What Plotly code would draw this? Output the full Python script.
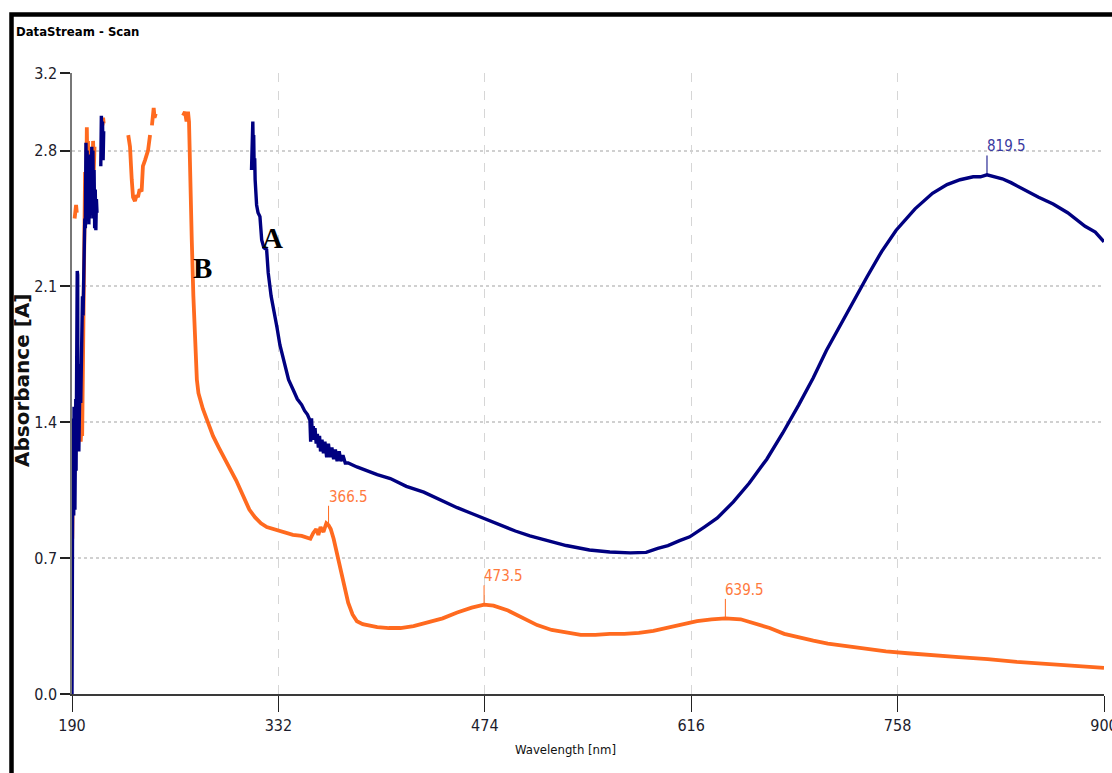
import plotly.graph_objects as go

# ---- Spectrum A (navy) -------------------------------------------------
# deep-UV region, noisy before detector saturation
a_uv_nm = [190.0, 190.2, 190.4, 190.6, 190.8, 191.0, 191.2, 191.4, 191.6, 191.8,
           192.0, 192.2, 192.4, 192.6, 192.8, 193.0, 193.2, 193.6, 193.9, 194.1,
           194.4, 194.7, 195.0, 195.3, 195.6, 196.0, 196.4, 196.8, 197.2, 197.6,
           198.0, 198.4, 198.8, 199.2, 199.6, 200.0, 200.4, 200.8, 201.2, 201.6,
           202.0, 202.4, 202.8, 203.2, 203.6, 204.0, 204.4, 204.8, 205.2, 205.6,
           206.0, 206.4, 206.8, 207.2]
a_uv_abs = [0.00, 0.45, 0.95, 1.42, 0.88, 1.30, 0.92, 1.48, 1.05, 1.40,
            0.95, 1.45, 1.10, 1.52, 1.15, 1.50, 1.20, 2.18, 2.16, 1.30,
            1.55, 1.25, 1.60, 1.35, 1.70, 1.50, 1.85, 1.70, 2.05, 1.95,
            2.25, 2.15, 2.45, 2.40, 2.84, 2.55, 2.80, 2.48, 2.75, 2.42,
            2.70, 2.45, 2.78, 2.50, 2.82, 2.55, 2.80, 2.45, 2.70, 2.40,
            2.60, 2.39, 2.55, 2.48]
a_uv2_nm = [209.8, 210.2, 210.6, 211.0, 211.4, 211.8]
a_uv2_abs = [2.72, 2.98, 2.80, 2.95, 2.75, 2.90]

a_main_nm = [313.5, 313.8, 314.1, 314.4, 314.7, 315.0, 315.3, 315.7, 316.0, 316.5,
             317.0, 318.0, 319.3, 320.5, 322.0, 323.9, 325.0, 327.0, 328.5, 331.0,
             333.0, 336.0, 339.0, 342.0, 345.0, 348.0, 350.0, 352.0, 353.7, 354.2,
             354.8, 355.4, 356.0, 356.6, 357.2, 358.0, 358.8, 359.5, 360.3, 361.0,
             362.0, 363.0, 364.0, 365.2, 366.4, 367.6, 368.8, 370.0, 371.2, 372.4,
             373.8, 375.0, 376.4, 378.0, 380.0, 386.0, 395.0, 400.0, 409.0, 420.0,
             432.0, 443.0, 455.0, 465.0, 475.0, 485.0, 495.0, 505.0, 512.0, 520.0,
             530.0, 546.0, 560.0, 574.0, 585.0, 593.0, 600.0, 608.0, 615.0, 625.0,
             634.0, 645.0, 656.0, 668.0, 679.0, 690.0, 700.0, 709.0, 720.0, 728.0,
             737.0, 747.0, 757.0, 770.0, 782.0, 792.0, 801.0, 810.0, 815.0, 819.5,
             824.0, 830.0, 836.0, 842.0, 848.0, 855.0, 865.0, 875.0, 887.0, 894.0,
             900.0]
a_main_abs = [2.70, 2.85, 2.78, 2.95, 2.80, 2.88, 2.72, 2.76, 2.65, 2.58,
              2.52, 2.48, 2.46, 2.34, 2.30, 2.29, 2.17, 2.05, 1.98, 1.89,
              1.80, 1.70, 1.62, 1.57, 1.52, 1.49, 1.46, 1.44, 1.41, 1.30,
              1.42, 1.33, 1.38, 1.31, 1.37, 1.29, 1.34, 1.27, 1.33, 1.25,
              1.31, 1.24, 1.30, 1.22, 1.29, 1.22, 1.27, 1.21, 1.26, 1.20,
              1.25, 1.20, 1.23, 1.19, 1.19, 1.17, 1.145, 1.13, 1.11, 1.07,
              1.04, 1.00, 0.96, 0.93, 0.90, 0.87, 0.84, 0.815, 0.80, 0.785,
              0.765, 0.742, 0.732, 0.727, 0.73, 0.75, 0.765, 0.79, 0.81, 0.86,
              0.907, 0.99, 1.087, 1.21, 1.345, 1.49, 1.63, 1.77, 1.92, 2.03,
              2.15, 2.28, 2.39, 2.50, 2.58, 2.625, 2.65, 2.665, 2.665, 2.675,
              2.665, 2.655, 2.635, 2.61, 2.59, 2.56, 2.525, 2.48, 2.41, 2.38,
              2.33]

# ---- Spectrum B (orange) -----------------------------------------------
b_uv_nm = [190.2, 190.5, 190.8, 191.1, 191.4]
b_uv_abs = [0.80, 1.25, 0.95, 1.40, 1.10]
b_uv2_nm = [191.8, 192.2, 192.8, 193.3]
b_uv2_abs = [2.45, 2.50, 2.52, 2.48]
b_uv3_nm = [196.0, 196.5, 197.0, 197.5, 198.0, 198.5, 199.0, 199.4, 199.8, 200.2,
            200.6, 201.0, 201.5, 202.0, 202.5, 203.5, 204.0, 204.5, 205.0, 205.5]
b_uv3_abs = [1.30, 1.38, 1.33, 1.60, 1.95, 2.35, 2.69, 2.55, 2.60, 2.92,
             2.70, 2.85, 2.58, 2.80, 2.62, 2.78, 2.66, 2.85, 2.70, 2.82]
b_uv4_nm = [211.0, 211.4, 211.8]
b_uv4_abs = [2.93, 2.97, 2.94]
b_dip_nm = [228.7, 229.9, 231.1, 232.0, 233.3, 234.5, 235.4, 236.5, 237.9, 238.8,
            240.2, 241.3, 242.3, 243.7]
b_dip_abs = [2.88, 2.82, 2.65, 2.56, 2.54, 2.57, 2.56, 2.60, 2.59, 2.72,
             2.75, 2.77, 2.80, 2.88]
b_dip2_nm = [245.0, 245.6, 246.2, 246.8, 247.6]
b_dip2_abs = [2.93, 3.00, 3.02, 2.97, 2.99]

b_main_nm = [266.4, 267.7, 268.8, 269.8, 270.5, 271.2, 272.4, 273.5, 274.6, 275.3,
             275.9, 277.0, 280.0, 283.0, 287.0, 291.0, 294.0, 298.0, 303.0, 308.0,
             312.0, 316.0, 320.0, 324.0, 330.0, 336.0, 342.0, 348.0, 354.0, 356.0,
             358.0, 359.5, 361.0, 363.0, 365.0, 366.5, 368.0, 370.0, 372.0, 374.0,
             377.0, 380.0, 383.0, 386.0, 390.0, 395.0, 400.0, 408.0, 416.0, 425.0,
             435.0, 445.0, 455.0, 465.0, 473.5, 480.0, 490.0, 500.0, 510.0, 520.0,
             530.0, 540.0, 550.0, 560.0, 570.0, 580.0, 590.0, 600.0, 610.0, 620.0,
             630.0, 639.5, 650.0, 660.0, 670.0, 680.0, 690.0, 700.0, 710.0, 720.0,
             735.0, 750.0, 765.0, 780.0, 800.0, 820.0, 840.0, 860.0, 880.0, 900.0]
b_main_abs = [2.98, 3.00, 2.95, 3.00, 2.95, 2.68, 2.34, 2.05, 1.85, 1.70,
              1.62, 1.55, 1.47, 1.41, 1.33, 1.27, 1.23, 1.17, 1.10, 1.02,
              0.95, 0.91, 0.88, 0.86, 0.845, 0.83, 0.82, 0.815, 0.80, 0.83,
              0.85, 0.82, 0.86, 0.835, 0.88, 0.87, 0.85, 0.80, 0.73, 0.67,
              0.56, 0.47, 0.41, 0.375, 0.36, 0.35, 0.345, 0.34, 0.34, 0.35,
              0.37, 0.39, 0.42, 0.445, 0.46, 0.455, 0.43, 0.39, 0.355, 0.33,
              0.315, 0.305, 0.305, 0.31, 0.31, 0.315, 0.325, 0.34, 0.36, 0.375,
              0.385, 0.39, 0.385, 0.365, 0.34, 0.31, 0.29, 0.275, 0.26, 0.25,
              0.235, 0.22, 0.21, 0.20, 0.19, 0.18, 0.165, 0.155, 0.145, 0.135]

# peak markers
peaks_a = [819.5]
peaks_b = [366.5, 473.5, 639.5]

x_ticks = [190, 332, 474, 616, 758, 900]
y_ticks = [0.0, 0.7, 1.4, 2.1, 2.8, 3.2]
y_tick_text = ["0.0", "0.7", "1.4", "2.1", "2.8", "3.2"]

NAVY = "#000080"
ORANGE = "#FF6A1F"
NARROW = "DejaVu Sans Condensed, Liberation Sans Narrow, Liberation Sans, sans-serif"


def join(*segments):
    """Concatenate (x, y) segments with None breaks between them."""
    xs, ys = [], []
    for i, (sx, sy) in enumerate(segments):
        if i:
            xs.append(None)
            ys.append(None)
        xs.extend(sx)
        ys.extend(sy)
    return xs, ys


ax_, ay_ = join((a_uv_nm, a_uv_abs), (a_uv2_nm, a_uv2_abs), (a_main_nm, a_main_abs))
bx_, by_ = join((b_uv_nm, b_uv_abs), (b_uv2_nm, b_uv2_abs), (b_uv3_nm, b_uv3_abs),
                (b_uv4_nm, b_uv4_abs), (b_dip_nm, b_dip_abs), (b_dip2_nm, b_dip2_abs),
                (b_main_nm, b_main_abs))

fig = go.Figure()
fig.add_trace(go.Scatter(x=bx_, y=by_, mode="lines", name="B",
                         line=dict(color=ORANGE, width=3.8), connectgaps=False))
fig.add_trace(go.Scatter(x=ax_, y=ay_, mode="lines", name="A",
                         line=dict(color=NAVY, width=3.4), connectgaps=False))

shapes = []
annotations = []


def mark_peak(nm_list, abs_list, nm, line_color, text_color):
    val = abs_list[nm_list.index(nm)]
    top = val + 0.10
    shapes.append(dict(type="line", xref="x", yref="y", x0=nm, x1=nm, y0=val, y1=top,
                       line=dict(color=line_color, width=1)))
    annotations.append(dict(x=nm, y=top, xref="x", yref="y", text=f"{nm}",
                            showarrow=False, xanchor="left", yanchor="bottom",
                            xshift=-2, yshift=-2,
                            font=dict(family=NARROW, size=15, color=text_color)))


for p in peaks_a:
    mark_peak(a_main_nm, a_main_abs, p, NAVY, "#3a3aa0")
for p in peaks_b:
    mark_peak(b_main_nm, b_main_abs, p, ORANGE, "#FF7A3D")

# curve labels
SERIF = "Liberation Serif, Times New Roman, serif"
annotations.append(dict(x=327.6, y=2.35, xref="x", yref="y", text="<b>A</b>",
                        showarrow=False, font=dict(family=SERIF, size=29, color="black")))
annotations.append(dict(x=280.1, y=2.195, xref="x", yref="y", text="<b>B</b>",
                        showarrow=False, font=dict(family=SERIF, size=29, color="black")))

# window title and axis titles
annotations.append(dict(x=-0.056, y=1.067, xref="paper", yref="paper",
                        text="<b>DataStream - Scan</b>", showarrow=False,
                        xanchor="left", yanchor="middle",
                        font=dict(family=NARROW, size=13, color="black")))
annotations.append(dict(x=(565 - 72) / 1032, y=-(749 - 694) / 621, xref="paper", yref="paper",
                        text="Wavelength [nm]", showarrow=False,
                        xanchor="center", yanchor="middle",
                        font=dict(family=NARROW, size=13, color="#111111")))
annotations.append(dict(x=-(72 - 22) / 1032, y=(694 - 380) / 621, xref="paper", yref="paper",
                        text="<b>Absorbance [A]</b>", showarrow=False, textangle=-90,
                        xanchor="center", yanchor="middle",
                        font=dict(family="DejaVu Sans, Verdana, sans-serif", size=20,
                                  color="#111111")))

# outer window frame
shapes.append(dict(type="rect", xref="paper", yref="paper",
                   x0=(11.5 - 72) / 1032, x1=1.06, y0=-0.2, y1=(694 - 14.5) / 621,
                   line=dict(color="black", width=4.5), fillcolor="rgba(0,0,0,0)",
                   layer="above"))

fig.update_layout(
    width=1112, height=773,
    margin=dict(l=72, r=8, t=73, b=79, pad=0, autoexpand=False),
    paper_bgcolor="white", plot_bgcolor="white",
    showlegend=False,
    shapes=shapes, annotations=annotations,
    xaxis=dict(range=[190, 900], tickmode="array", tickvals=x_ticks,
               ticktext=[str(t) for t in x_ticks], ticklabeloverflow="allow",
               automargin=False,
               ticks="outside", ticklen=16, tickwidth=1.2, tickcolor="#222",
               showline=True, linecolor="#3a3a3a", linewidth=2,
               showgrid=True, gridcolor="#d6d6d6", griddash="dash", gridwidth=1,
               zeroline=False,
               tickfont=dict(family=NARROW, size=16, color="#1c1c2c")),
    yaxis=dict(range=[0, 3.2], tickmode="array", tickvals=y_ticks, ticktext=y_tick_text,
               automargin=False,
               ticks="outside", ticklen=10, tickwidth=1.5, tickcolor="#222",
               showline=True, linecolor="#777777", linewidth=1.5,
               showgrid=True, gridcolor="#d0d0d0", griddash="dot", gridwidth=1.5,
               zeroline=False,
               tickfont=dict(family=NARROW, size=16, color="#1c1c2c")),
)

fig.write_html("out.html")
